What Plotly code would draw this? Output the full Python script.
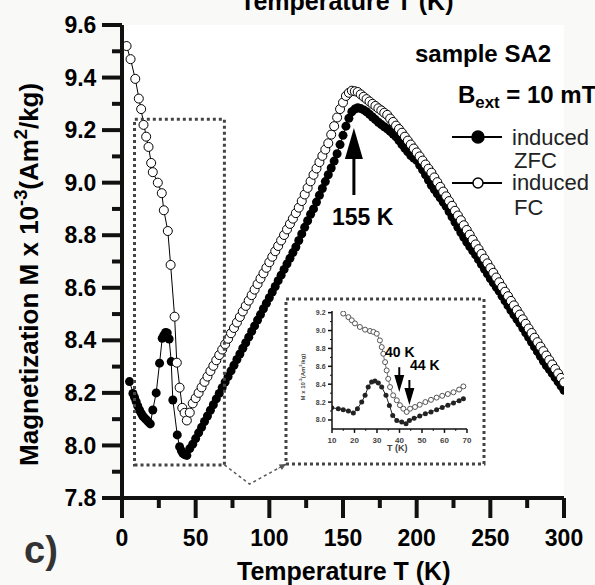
import plotly.graph_objects as go

# FC (field cooled) curve, main panel
fc_T = [3.1, 5.8, 9.0, 11.4, 13.0, 14.6, 16.4, 18.0, 19.8, 20.9, 24.3, 27.0, 28.4, 31.1, 33.0, 35.7, 37.2, 39.1, 40.9, 42.5,
        44, 46, 48, 50, 52, 54, 56, 58, 60, 62, 64, 66, 68, 70, 72, 74, 76, 78, 80, 82, 84, 86, 88, 90,
        92, 94, 96, 98, 100, 102, 104, 106, 108, 110, 112, 114, 116, 118, 120, 122, 124, 126, 128, 130,
        132, 134, 136, 138, 140, 142, 144, 146, 148, 150, 152, 154, 156, 158, 160, 162, 164, 166, 168, 170,
        172, 174, 176, 178, 180, 182, 184, 186, 188, 190, 192, 194, 196, 198, 200, 202, 204, 206, 208, 210,
        212, 214, 216, 218, 220, 222, 224, 226, 228, 230, 232, 234, 236, 238, 240, 242, 244, 246, 248, 250,
        252, 254, 256, 258, 260, 262, 264, 266, 268, 270, 272, 274, 276, 278, 280, 282, 284, 286, 288, 290,
        292, 294, 296, 298, 300]
fc_M = [9.52, 9.47, 9.395, 9.32, 9.28, 9.22, 9.175, 9.136, 9.075, 9.04, 9.00, 8.96, 8.895, 8.816, 8.687, 8.49, 8.315, 8.22, 8.143, 8.124,
        8.095, 8.125, 8.160, 8.180, 8.200, 8.221, 8.242, 8.262, 8.283, 8.303, 8.324, 8.344, 8.365, 8.385,
        8.406, 8.427, 8.447, 8.468, 8.489, 8.510, 8.531, 8.551, 8.572, 8.593, 8.614, 8.635, 8.655, 8.676, 8.697,
        8.718, 8.739, 8.759, 8.780, 8.801, 8.822, 8.843, 8.863, 8.884, 8.905, 8.930, 8.955, 8.980, 9.005, 9.030,
        9.054, 9.078, 9.102, 9.126, 9.150, 9.183, 9.215, 9.248, 9.280, 9.305, 9.330, 9.342, 9.350, 9.348, 9.345,
        9.336, 9.327, 9.318, 9.309, 9.300, 9.292, 9.283, 9.275, 9.266, 9.258, 9.244, 9.231, 9.217, 9.204, 9.190,
        9.175, 9.160, 9.145, 9.130, 9.115, 9.100, 9.084, 9.069, 9.053, 9.038, 9.020, 9.002, 8.984, 8.966, 8.948,
        8.930, 8.912, 8.893, 8.875, 8.857, 8.838, 8.820, 8.802, 8.783, 8.765, 8.747, 8.729, 8.711, 8.693, 8.675,
        8.657, 8.639, 8.621, 8.603, 8.585, 8.568, 8.550, 8.533, 8.515, 8.498, 8.480, 8.463, 8.445, 8.428, 8.410,
        8.393, 8.376, 8.359, 8.342, 8.325, 8.308, 8.291, 8.274, 8.257, 8.240]

# ZFC (zero field cooled) curve, main panel
zfc_T = [5.1, 7.4, 8.5, 9.6, 10.7, 11.9, 13.0, 14.1, 15.3, 16.4, 17.8, 19.2, 20.9, 23.2, 25.5, 27.3, 28.4, 29.6, 30.7, 32.0,
         33.4, 34.5, 37.5, 39.1, 40.3, 41.3, 42.5,
         44, 46, 48, 50, 52, 54, 56, 58, 60, 62, 64, 66, 68, 70, 72, 74, 76, 78, 80, 82, 84, 86, 88, 90,
         92, 94, 96, 98, 100, 102, 104, 106, 108, 110, 112, 114, 116, 118, 120, 122, 124, 126, 128, 130,
         132, 134, 136, 138, 140, 142, 144, 146, 148, 150, 152, 154, 156, 158, 160, 162, 164, 166, 168, 170,
         172, 174, 176, 178, 180, 182, 184, 186, 188, 190, 192, 194, 196, 198, 200, 202, 204, 206, 208, 210,
         212, 214, 216, 218, 220, 222, 224, 226, 228, 230, 232, 234, 236, 238, 240, 242, 244, 246, 248, 250,
         252, 254, 256, 258, 260, 262, 264, 266, 268, 270, 272, 274, 276, 278, 280, 282, 284, 286, 288, 290,
         292, 294, 296, 298, 300]
zfc_M = [8.243, 8.198, 8.183, 8.167, 8.150, 8.135, 8.123, 8.112, 8.105, 8.098, 8.090, 8.082, 8.135, 8.200, 8.313, 8.408,
         8.420, 8.430, 8.428, 8.405, 8.319, 8.173, 8.040, 7.995, 7.980, 7.970, 7.965,
         7.962, 7.988, 8.005, 8.026, 8.048, 8.069, 8.091, 8.112, 8.134, 8.155, 8.177, 8.198, 8.220, 8.241,
         8.262, 8.284, 8.305, 8.327, 8.348, 8.370, 8.391, 8.412, 8.434, 8.455, 8.477, 8.498, 8.520, 8.541, 8.562,
         8.584, 8.605, 8.627, 8.648, 8.670, 8.691, 8.712, 8.734, 8.755, 8.780, 8.805, 8.830, 8.855, 8.880, 8.900,
         8.926, 8.952, 8.978, 9.004, 9.030, 9.056, 9.082, 9.110, 9.145, 9.180, 9.215, 9.245, 9.270, 9.280, 9.285,
         9.282, 9.277, 9.270, 9.260, 9.250, 9.240, 9.230, 9.221, 9.213, 9.205, 9.195, 9.185, 9.174, 9.160, 9.145,
         9.131, 9.117, 9.103, 9.094, 9.085, 9.067, 9.049, 9.030, 9.010, 8.990, 8.974, 8.958, 8.942, 8.926, 8.910,
         8.890, 8.870, 8.850, 8.830, 8.810, 8.792, 8.774, 8.757, 8.741, 8.725, 8.707, 8.689, 8.671, 8.653, 8.635,
         8.619, 8.603, 8.587, 8.568, 8.550, 8.532, 8.514, 8.497, 8.481, 8.465, 8.447, 8.429, 8.411, 8.393, 8.375,
         8.357, 8.339, 8.321, 8.304, 8.290, 8.274, 8.258, 8.242, 8.226, 8.210]

# inset (10-70 K zoom)
in_fc_T = [15.0, 17.3, 18.8, 20.2, 22.4, 24.7, 26.9, 28.4, 29.9, 31.3, 32.1, 32.8, 33.6, 34.3, 35.0, 35.8, 37.2, 38.8,
           40.2, 41.7, 43.2, 44.7, 46.9, 49.0, 51.5, 54.0, 56.5, 59.0, 61.5, 64.0, 66.5, 68.4]
in_fc_M = [9.19, 9.15, 9.115, 9.08, 9.04, 9.01, 8.995, 8.985, 8.965, 8.89, 8.815, 8.74, 8.647, 8.554, 8.46, 8.368, 8.275,
           8.22, 8.165, 8.126, 8.09, 8.126, 8.145, 8.17, 8.20, 8.225, 8.25, 8.27, 8.29, 8.31, 8.34, 8.375]
in_zfc_T = [9.9, 12.8, 15.0, 17.3, 19.5, 21.3, 23.2, 24.7, 26.1, 27.6, 29.1, 30.6, 32.1, 34.0, 35.5, 37.0, 38.8, 41.0,
            42.9, 44.4, 46.5, 49.0, 51.5, 54.0, 56.5, 59.0, 61.5, 64.0, 66.5, 68.4]
in_zfc_M = [8.137, 8.126, 8.115, 8.10, 8.077, 8.126, 8.20, 8.275, 8.368, 8.424, 8.435, 8.412, 8.368, 8.275, 8.163,
            8.051, 7.995, 7.976, 7.958, 7.995, 8.02, 8.045, 8.07, 8.09, 8.115, 8.14, 8.165, 8.19, 8.215, 8.238]

# axis ranges and tick positions
X_RANGE = [0, 300]
Y_RANGE = [7.8, 9.6]
IN_X_RANGE = [10, 70]
IN_Y_RANGE = [7.9, 9.22]
IN_X_DOMAIN = [0.4751, 0.7805]
IN_Y_DOMAIN = [0.1461, 0.3956]
x_major = [0, 50, 100, 150, 200, 250, 300]
x_minor = [25, 75, 125, 175, 225, 275]
y_major = [7.8, 8.0, 8.2, 8.4, 8.6, 8.8, 9.0, 9.2, 9.4, 9.6]
y_minor = [7.9, 8.1, 8.3, 8.5, 8.7, 8.9, 9.1, 9.3, 9.5]
in_x_major = [10, 20, 30, 40, 50, 60, 70]
in_x_minor = [15, 25, 35, 45, 55, 65]
in_y_major = [8.0, 8.2, 8.4, 8.6, 8.8, 9.0, 9.2]
in_y_minor = [8.1, 8.3, 8.5, 8.7, 8.9, 9.1]

FONT = "Liberation Sans"
INK = "#111111"

fig = go.Figure()

# main curves - ZFC first so the open FC circles sit on top
fig.add_trace(go.Scatter(x=zfc_T, y=zfc_M, mode="lines+markers",
                         line=dict(color="black", width=1),
                         marker=dict(symbol="circle", size=9, color="black"),
                         showlegend=False))
fig.add_trace(go.Scatter(x=fc_T, y=fc_M, mode="lines+markers",
                         line=dict(color="black", width=1),
                         marker=dict(symbol="circle", size=9, color="white",
                                     line=dict(color="black", width=1)),
                         showlegend=False))

# inset curves
fig.add_trace(go.Scatter(x=in_zfc_T, y=in_zfc_M, xaxis="x2", yaxis="y2", mode="lines+markers",
                         line=dict(color="#222", width=1),
                         marker=dict(size=5, color="#222"), showlegend=False))
fig.add_trace(go.Scatter(x=in_fc_T, y=in_fc_M, xaxis="x2", yaxis="y2", mode="lines+markers",
                         line=dict(color="#777", width=1),
                         marker=dict(size=5, color="white", line=dict(color="#555", width=1)),
                         showlegend=False))

shapes = []


# axis lines and ticks as paper-referenced shapes
def axis_frame(xdom, ydom, xr, yr, xt, yt, xm, ym, lw, tl, ml, tw, mw):
    def px(v):
        return xdom[0] + (v - xr[0]) / (xr[1] - xr[0]) * (xdom[1] - xdom[0])

    def py(v):
        return ydom[0] + (v - yr[0]) / (yr[1] - yr[0]) * (ydom[1] - ydom[0])

    out = [dict(type="line", xref="paper", yref="paper", x0=xdom[0], x1=xdom[1], y0=ydom[0], y1=ydom[0],
                line=dict(color=INK, width=lw)),
           dict(type="line", xref="paper", yref="paper", x0=xdom[0], x1=xdom[0], y0=ydom[0], y1=ydom[1],
                line=dict(color=INK, width=lw))]
    for vals, ln, w in [(xt, tl, tw), (xm, ml, mw)]:
        for v in vals:
            out.append(dict(type="line", xref="paper", yref="paper", ysizemode="pixel", yanchor=ydom[0],
                            x0=px(v), x1=px(v), y0=0, y1=-ln, line=dict(color=INK, width=w)))
    for vals, ln, w in [(yt, tl, tw), (ym, ml, mw)]:
        for v in vals:
            out.append(dict(type="line", xref="paper", yref="paper", xsizemode="pixel", xanchor=xdom[0],
                            y0=py(v), y1=py(v), x0=0, x1=-ln, line=dict(color=INK, width=w)))
    return out


shapes += axis_frame([0, 1], [0, 1], X_RANGE, Y_RANGE, x_major, y_major, x_minor, y_minor,
                     4, 20, 10, 4, 4)
shapes += axis_frame(IN_X_DOMAIN, IN_Y_DOMAIN, IN_X_RANGE, IN_Y_RANGE, in_x_major, in_y_major,
                     in_x_minor, in_y_minor, 1.5, 4, 2, 1.5, 1)

# dotted boxes and connector
shapes.append(dict(type="rect", xref="x", yref="y", x0=8.5, x1=69.5, y0=7.926, y1=9.241,
                   line=dict(color="#444", width=3, dash="dot")))
shapes.append(dict(type="rect", xref="x", yref="y", x0=111.3, x1=245.7, y0=7.929, y1=8.557,
                   line=dict(color="#444", width=3, dash="dot")))
shapes.append(dict(type="path", xref="x", yref="y", path="M69.5,7.926 L86.6,7.853 L111.3,7.929",
                   line=dict(color="#555", width=1.5, dash="dot")))

# 155 K arrow (points up)
shapes.append(dict(type="line", xref="x", yref="y", x0=157.4, x1=157.4, y0=8.953, y1=9.11,
                   line=dict(color="black", width=3)))
shapes.append(dict(type="path", xref="x", yref="y", xsizemode="pixel", ysizemode="pixel",
                   xanchor=157.4, yanchor=9.208, path="M-9,-31 L0,0 L9,-31 Z",
                   fillcolor="black", line=dict(width=0)))

# inset arrows (40 K, 44 K), pointing down
for xa, y_top, y_tip in [(39.9, 8.59, 8.312), (44.4, 8.447, 8.168)]:
    shapes.append(dict(type="line", xref="x2", yref="y2", x0=xa, x1=xa, y0=y_top, y1=y_tip + 0.12,
                       line=dict(color="black", width=2)))
    shapes.append(dict(type="path", xref="x2", yref="y2", xsizemode="pixel", ysizemode="pixel",
                       xanchor=xa, yanchor=y_tip, path="M-5,17 L0,0 L5,17 Z",
                       fillcolor="black", line=dict(width=0)))

# legend symbols (paper coords)
for yp, fill, r in [(0.7632, "black", 6), (0.6660, "white", 5)]:
    shapes.append(dict(type="line", xref="paper", yref="paper", x0=0.7466, x1=0.8597, y0=yp, y1=yp,
                       line=dict(color="black", width=2)))
    shapes.append(dict(type="circle", xref="paper", yref="paper", xsizemode="pixel", ysizemode="pixel",
                       xanchor=0.8054, yanchor=yp, x0=-r, x1=r, y0=-r, y1=r,
                       fillcolor=fill, line=dict(color="black", width=1.5)))


def note(text, x, y, ref="paper", xa="center", ya="middle", size=22, bold=True, color="black", angle=0):
    return dict(text="<b>%s</b>" % text if bold else text, x=x, y=y,
                xref="paper" if ref == "paper" else ref[0],
                yref="paper" if ref == "paper" else ref[1], xanchor=xa, yanchor=ya,
                showarrow=False, textangle=angle, font=dict(family=FONT, size=size, color=color))


annotations = [
    note("155 K", 163.4, 8.871, ref=("x", "y"), size=23),
    note("40 K", 40.1, 8.764, ref=("x2", "y2"), size=14),
    note("44 K", 51.3, 8.615, ref=("x2", "y2"), size=14),
    note("sample SA2", 0.8167, 0.9408, size=24),
    note("B<sub>ext</sub> = 10 mT", 0.7557, 0.8480, xa="left", size=24),
    note("induced", 0.8778, 0.7632, xa="left", size=22, bold=False, color="#222"),
    note("ZFC", 0.8824, 0.7125, xa="left", size=22, bold=False, color="#222"),
    note("induced", 0.8778, 0.6660, xa="left", size=22, bold=False, color="#222"),
    note("FC", 0.8824, 0.6152, xa="left", size=22, bold=False, color="#222"),
    # axis titles
    note("Temperature T (K)", 0.5, -0.1543, size=25),
    note("Temperature T (K)", 0.509, 1.0507, size=25),
    note("Magnetization M x 10<sup>-3</sup>(Am<sup>2</sup>/kg)", -0.2127, 0.4736, size=26, angle=-90),
    note("c)", -0.1833, -0.1099, size=38, color="#333"),
    # inset axis titles
    note("M x 10<sup>-3</sup>(Am<sup>2</sup>/kg)", (301.7 - 122) / 442, (498 - 376.7) / 473,
         size=6, color="#444", angle=-90),
    note("T (K)", (397.7 - 122) / 442, (498 - 448) / 473, size=9, color="#444"),
]
# connector arrowhead into the inset box
annotations.append(dict(text="", x=111.3, y=7.929, xref="x", yref="y", showarrow=True, ax=-9, ay=5,
                        arrowhead=2, arrowsize=1.3, arrowwidth=1, arrowcolor="#555", standoff=0))

clear = "rgba(0,0,0,0)"


def bold_labels(vals, fmt):
    return ["<b>" + fmt % v + "</b>" for v in vals]


fig.update_layout(
    width=595, height=585,
    margin=dict(l=122, r=31, t=25, b=87),
    paper_bgcolor="#f9f9f7", plot_bgcolor="white",
    shapes=shapes, annotations=annotations,
    xaxis=dict(range=X_RANGE, tickmode="array", tickvals=x_major, ticktext=bold_labels(x_major, "%d"),
               showline=False, showgrid=False, zeroline=False,
               ticks="outside", ticklen=19, tickwidth=4, tickcolor=clear,
               tickfont=dict(family=FONT, size=23, color="black")),
    yaxis=dict(range=Y_RANGE, tickmode="array", tickvals=y_major, ticktext=bold_labels(y_major, "%.1f"),
               showline=False, showgrid=False, zeroline=False,
               ticks="outside", ticklen=20, tickwidth=4, tickcolor=clear,
               tickfont=dict(family=FONT, size=23, color="black")),
    xaxis2=dict(domain=IN_X_DOMAIN, anchor="y2", range=IN_X_RANGE, tickmode="array",
                tickvals=in_x_major, ticktext=bold_labels(in_x_major, "%d"),
                showline=False, showgrid=False, zeroline=False,
                ticks="outside", ticklen=4, tickwidth=1.5, tickcolor=clear,
                tickfont=dict(family=FONT, size=8, color="#444")),
    yaxis2=dict(domain=IN_Y_DOMAIN, anchor="x2", range=IN_Y_RANGE, tickmode="array",
                tickvals=in_y_major, ticktext=bold_labels(in_y_major, "%.1f"),
                showline=False, showgrid=False, zeroline=False,
                ticks="outside", ticklen=4, tickwidth=1.5, tickcolor=clear,
                tickfont=dict(family=FONT, size=7, color="#444")),
)

# the page has a default 8px body margin; drop it so the figure sits at the window corner
fig.write_html("out.html", config={"displayModeBar": False},
               post_script="document.body.style.margin='0px';")
